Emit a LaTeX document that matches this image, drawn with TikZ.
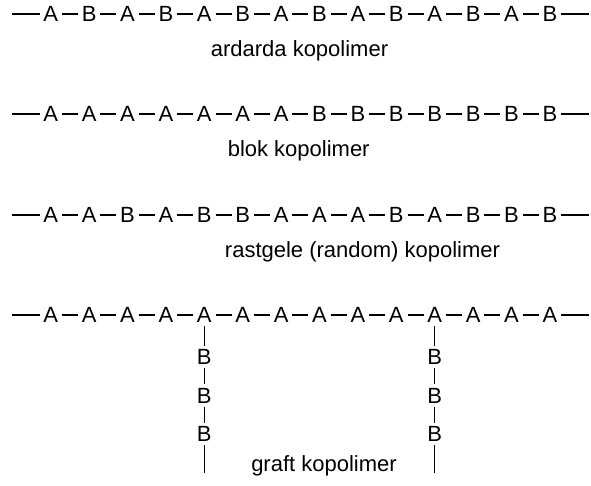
\documentclass[tikz,border=0pt]{standalone}
\usepackage{fontspec}
\setmainfont{Liberation Sans}
\begin{document}
\begin{tikzpicture}[x=1pt,y=-1pt,
  mono/.style={inner sep=0pt,minimum width=22pt,minimum height=22pt,font=\fontsize{22}{26}\selectfont},
  caption/.style={inner sep=0pt,anchor=base,font=\fontsize{22}{26}\selectfont},
  bond/.style={line width=1.5pt}]
\useasboundingbox (0,0) rectangle (591,485);
% main chains
\foreach \r/\y/\seq in {1/14/{A,B,A,B,A,B,A,B,A,B,A,B,A,B},
                        2/114/{A,A,A,A,A,A,A,B,B,B,B,B,B,B},
                        3/215/{A,A,B,A,B,B,A,A,A,B,A,B,B,B},
                        4/315/{A,A,A,A,A,A,A,A,A,A,A,A,A,A}}{
  \foreach \l [count=\i from 0] in \seq {
    \node[mono] (r\r-\i) at ({50.7+38.4*\i},\y) {\l};
  }
  \coordinate (r\r-s) at (12,\y);
  \coordinate (r\r-e) at (589,\y);
  \draw[bond] (r\r-s) -- (r\r-0.west);
  \draw[bond] (r\r-13.east) -- (r\r-e);
  \foreach \i in {0,...,12}{
    \pgfmathtruncatemacro\j{\i+1}
    \draw[bond] (r\r-\i.east) -- (r\r-\j.west);
  }
}
% graft branches
\foreach \b/\k in {1/4,2/10}{
  \foreach \yy [count=\m] in {357,395.5,434}{
    \node[mono] (g\b-\m) at ({50.7+38.4*\k},\yy) {B};
  }
  \coordinate (g\b-e) at ({50.7+38.4*\k},473);
  \draw[bond] (r4-\k.south) -- (g\b-1.north);
  \draw[bond] (g\b-1.south) -- (g\b-2.north);
  \draw[bond] (g\b-2.south) -- (g\b-3.north);
  \draw[bond] (g\b-3.south) -- (g\b-e);
}
% captions
\node[caption] (c1) at (299.5,56.7) {ardarda kopolimer};
\node[caption] (c2) at (298.7,156) {blok kopolimer};
\node[caption] (c3) at (362.5,257.3) {rastgele (random) kopolimer};
\node[caption] (c4) at (324,471.7) {graft kopolimer};
\end{tikzpicture}
\end{document}
